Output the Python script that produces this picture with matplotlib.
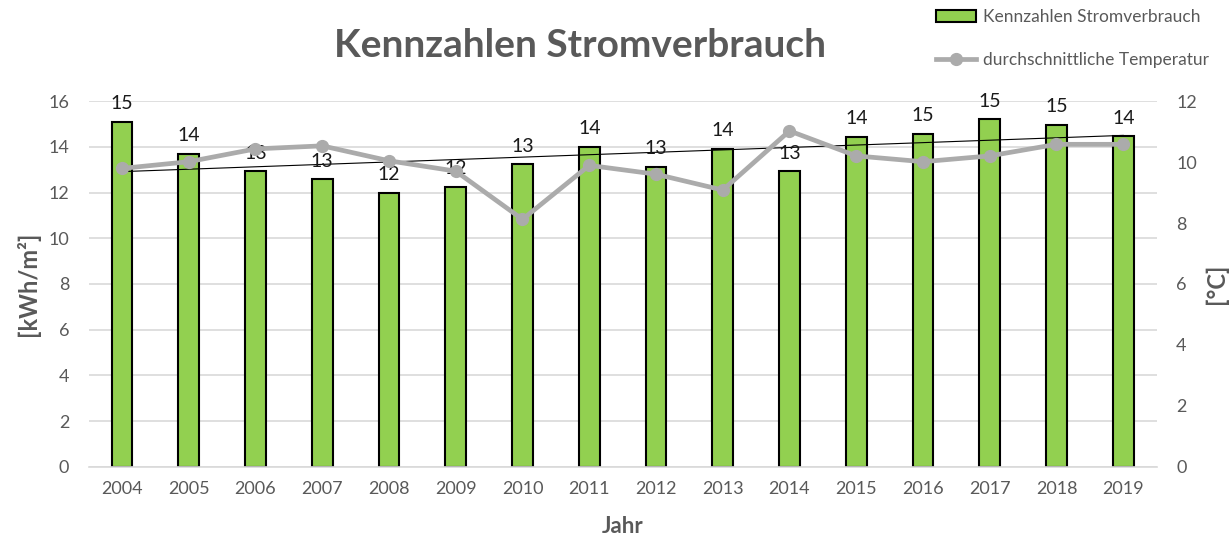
import matplotlib
matplotlib.use("Agg")
import matplotlib.pyplot as plt
import numpy as np
from matplotlib.lines import Line2D
from matplotlib.patches import Patch

years = ["2004", "2005", "2006", "2007", "2008", "2009", "2010", "2011",
         "2012", "2013", "2014", "2015", "2016", "2017", "2018", "2019"]
strom = [15.08, 13.68, 12.92, 12.57, 11.98, 12.25, 13.23, 14.0,
         13.13, 13.92, 12.92, 14.44, 14.56, 15.2, 14.95, 14.45]
temp = [9.79, 10.01, 10.43, 10.53, 10.04, 9.70, 8.12, 9.89,
        9.6, 9.08, 11.02, 10.2, 10.01, 10.2, 10.58, 10.58]

GRAY = "#595959"
plt.rcParams['font.family'] = ['Lato', 'DejaVu Sans']

fig = plt.figure(figsize=(12.29, 5.39), dpi=100)
ax = fig.add_axes([0.0721, 0.1336, 0.869, 0.679])
ax2 = ax.twinx()

x = np.arange(len(years))
ax.bar(x, strom, width=0.31, color="#92D050", edgecolor="black", linewidth=1.5, zorder=2)
for xi, v in zip(x, strom):
    ax.annotate(f"{v:.0f}", (xi, v), xytext=(0, 7), textcoords="offset points",
                ha="center", va="bottom", fontsize=14, color="#1a1a1a", zorder=5)

# linear trendline of the bars
k, d = np.polyfit(x, strom, 1)
ax.plot(x, k * x + d, color="black", linewidth=0.8, zorder=4)

ax2.plot(x, temp, color="#ABABAB", linewidth=3.4, marker="o", markersize=8.5, zorder=3)

ax.set_xlim(-0.5, len(years) - 0.5)
ax.set_ylim(0, 16)
ax.set_yticks(range(0, 17, 2))
ax2.set_ylim(0, 12)
ax2.set_yticks(range(0, 13, 2))
ax.set_xticks(x)
ax.set_xticklabels(years)

ax.grid(axis="y", color="#D9D9D9", linewidth=1.2, zorder=0)
ax.set_axisbelow(True)
for a in (ax, ax2):
    for s in a.spines.values():
        s.set_visible(False)
    a.tick_params(length=0, labelsize=13, colors=GRAY)
ax.spines["bottom"].set_visible(True)
ax.spines["bottom"].set_color("#D9D9D9")
ax.spines["bottom"].set_linewidth(1.2)
ax.tick_params(axis="x", pad=10)
ax.tick_params(axis="y", pad=14)
ax2.tick_params(axis="y", pad=14)

ax.set_xlabel("Jahr", fontsize=16, fontweight="bold", color=GRAY, labelpad=14)
ax.set_ylabel("[kWh/m²]", fontsize=17, fontweight="bold", color=GRAY, labelpad=6)
ax2.set_ylabel("[°C]", fontsize=17, fontweight="bold", color=GRAY, labelpad=6)

fig.text(0.472, 0.915, "Kennzahlen Stromverbrauch", ha="center", va="center",
         fontsize=28, fontweight="bold", color=GRAY)

handles = [Patch(facecolor="#92D050", edgecolor="black", linewidth=1.5),
           Line2D([0], [0], color="#ABABAB", linewidth=3.4, marker="o", markersize=8.5)]
leg = fig.legend(handles, ["Kennzahlen Stromverbrauch", "durchschnittliche Temperatur"],
                 loc="upper left", bbox_to_anchor=(0.749, 1.012), frameon=False,
                 fontsize=12.5, labelcolor=GRAY, handlelength=2.3, handletextpad=0.4,
                 labelspacing=1.55, handleheight=0.75)

fig.savefig("out.png", dpi=100)
